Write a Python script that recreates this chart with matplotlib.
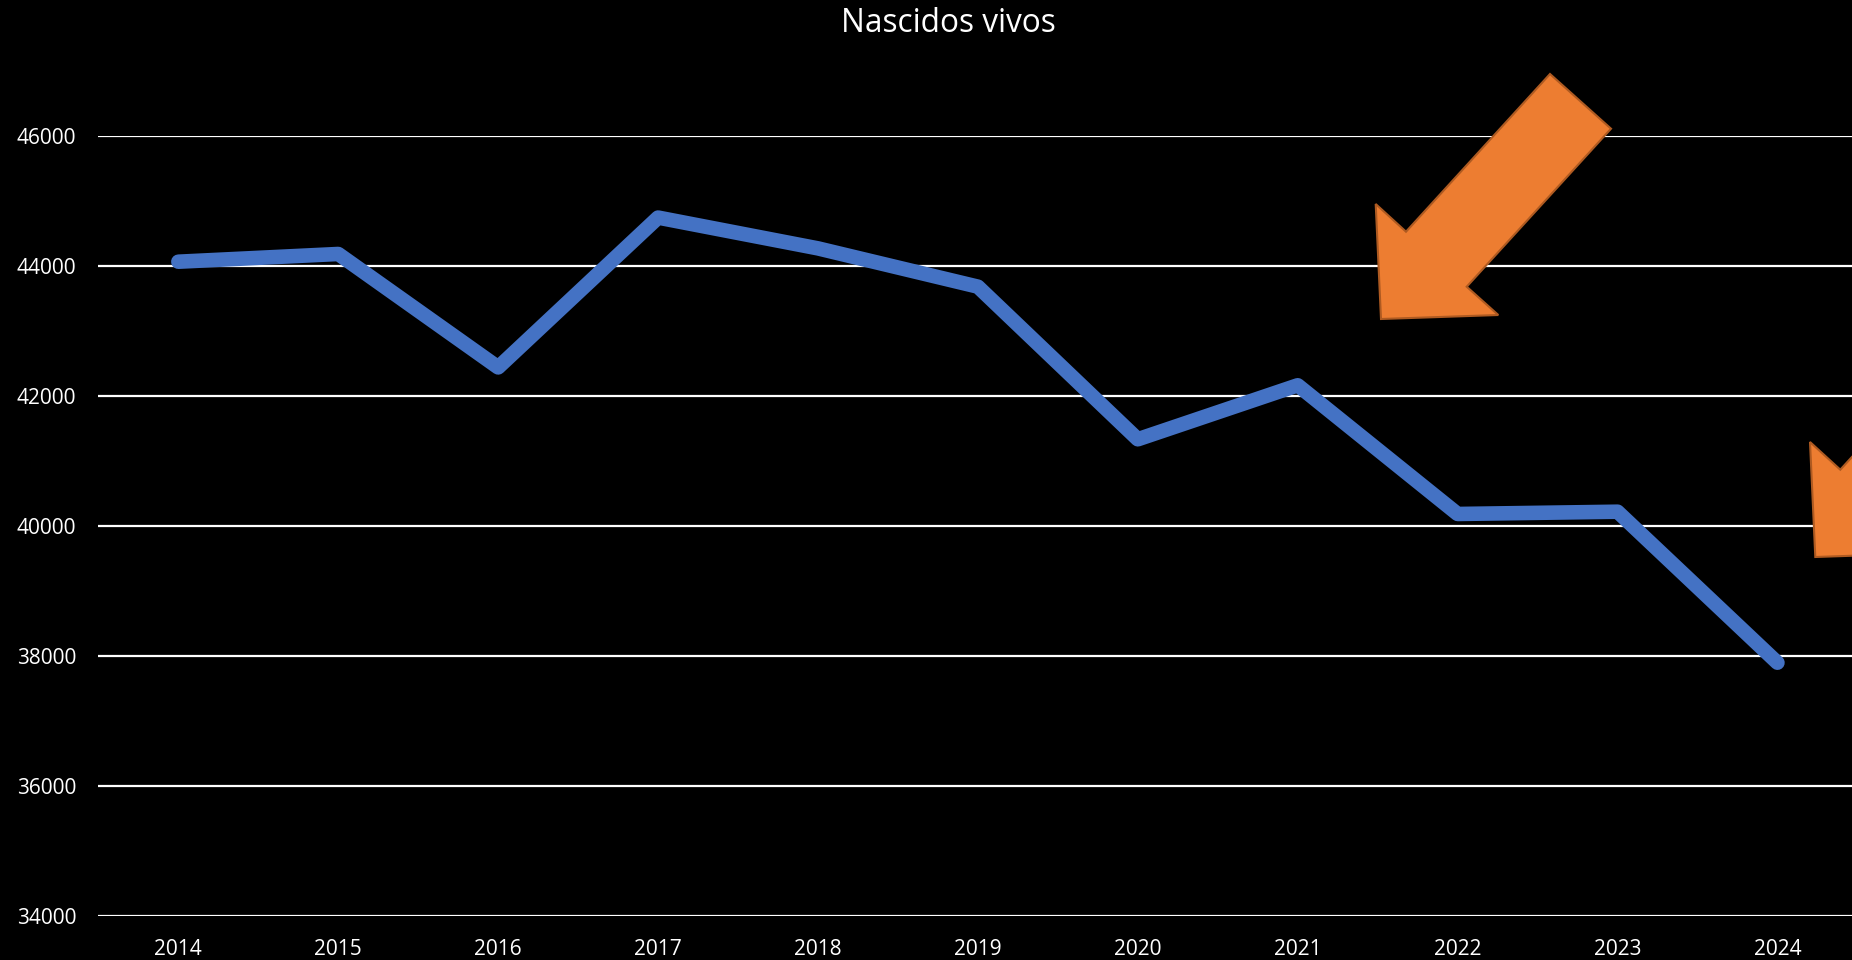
import numpy as np
import matplotlib.pyplot as plt
from matplotlib.patches import Polygon

years = [2014, 2015, 2016, 2017, 2018, 2019, 2020, 2021, 2022, 2023, 2024]
births = [44066, 44185, 42440, 44745, 44271, 43682, 41334, 42165, 40185, 40220, 37897]
y_ticks = [34000, 36000, 38000, 40000, 42000, 44000, 46000]

W, H = 1852, 960
fig = plt.figure(figsize=(W / 100, H / 100), dpi=100, facecolor="black")
plt.rcParams["font.family"] = ["Open Sans", "DejaVu Sans"]

# plot area runs a bit past the right edge, like the cropped original
ax = fig.add_axes([98.4 / W, 1 - 916 / H, 1759 / W, 780 / H])
ax.set_facecolor("black")

ax.plot(years, births, color="#4472C4", lw=10.5,
        solid_capstyle="round", solid_joinstyle="round", zorder=3)

ax.set_xlim(years[0] - 0.5, years[-1] + 0.5)
ax.set_ylim(y_ticks[0], y_ticks[-1])
ax.set_xticks(years)
ax.set_yticks(y_ticks)
ax.set_xticklabels([str(y) for y in years])
ax.set_yticklabels([str(v) for v in y_ticks])
ax.tick_params(axis="both", length=0, colors="white", labelsize=15)
ax.tick_params(axis="y", pad=16)
ax.tick_params(axis="x", pad=16.5)
ax.grid(axis="y", color="white", lw=1.6)
ax.set_axisbelow(True)
for s in ax.spines.values():
    s.set_visible(False)

fig.text(948 / W, 1 - 32.5 / H, "Nascidos vivos", color="white",
         fontsize=22.8, ha="center", va="baseline")

# orange block arrows (shape drawn in figure pixels)
arrow = np.array([(1381, 319), (1375.7, 204), (1406, 231.7), (1550, 74),
                  (1611, 128.7), (1466.7, 286.7), (1498.3, 315)])
for dx, dy in [(0, 0), (434.3, 238)]:
    pts = arrow + [dx, dy]
    pts = np.column_stack([pts[:, 0] / W, 1 - pts[:, 1] / H])
    fig.patches.append(Polygon(pts, closed=True, transform=fig.transFigure,
                               facecolor="#ED7D31", edgecolor="#AE5A21",
                               lw=1.5, zorder=5))

fig.savefig("out.png", dpi=100, facecolor="black")
